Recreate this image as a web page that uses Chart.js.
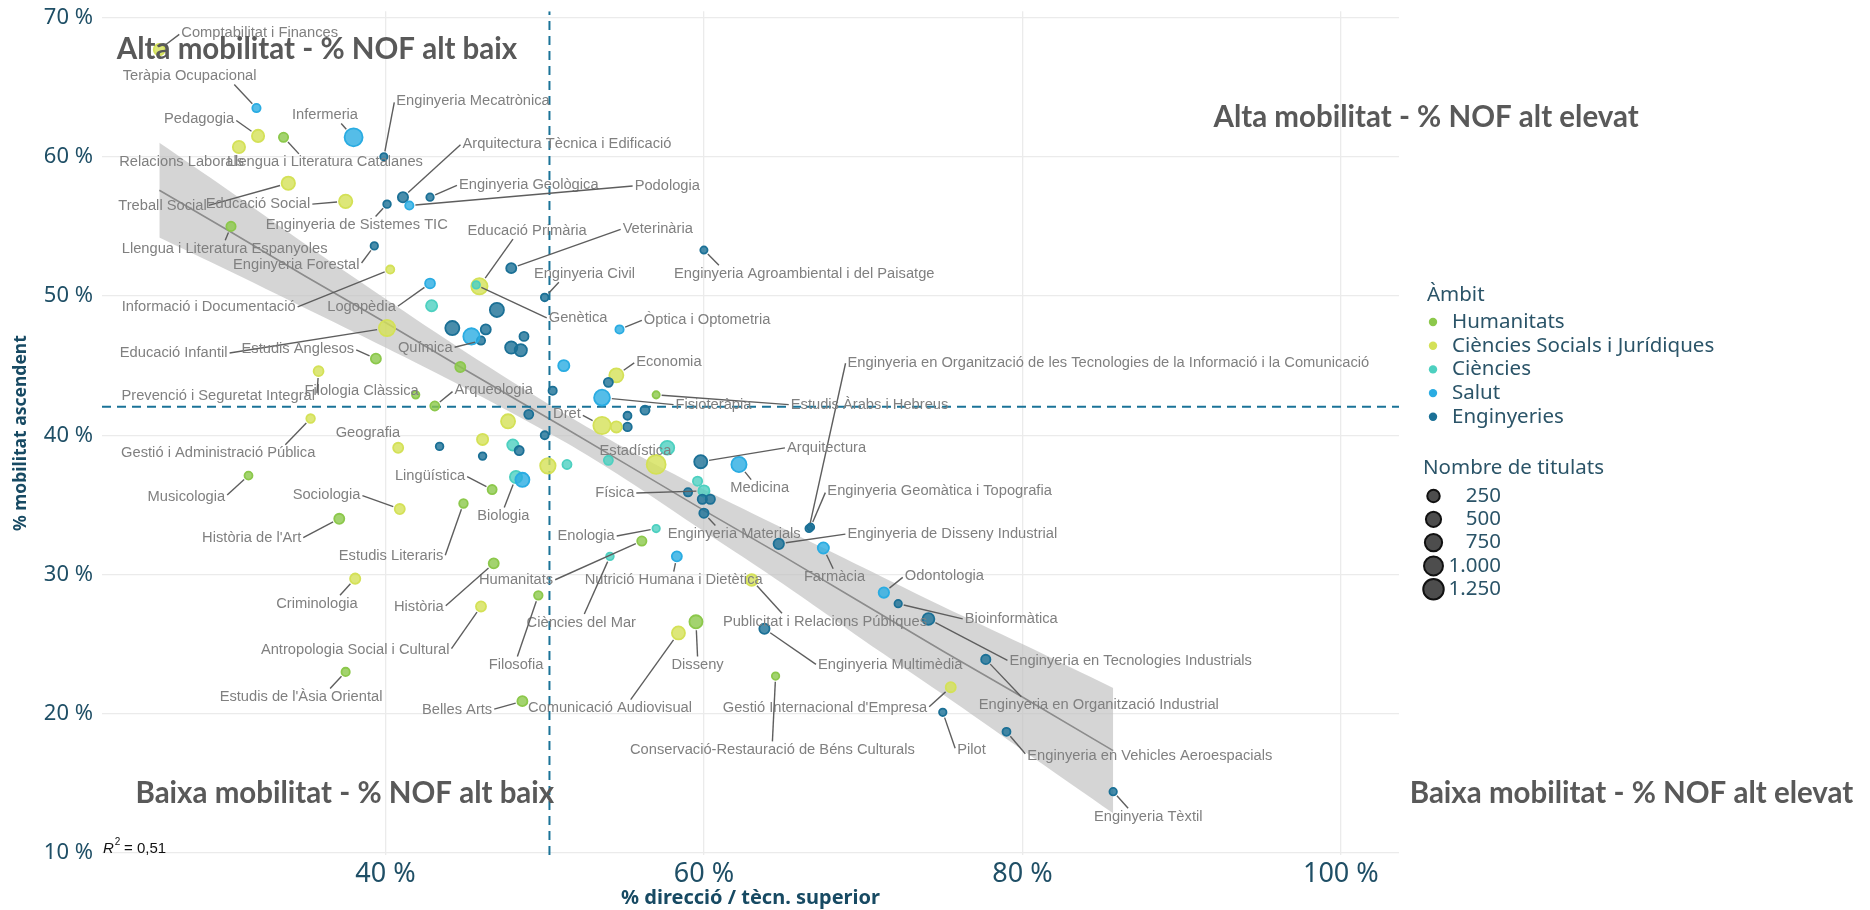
<!DOCTYPE html>
<html>
<head>
<meta charset="utf-8">
<script src="https://cdn.jsdelivr.net/npm/chart.js@4.4.1/dist/chart.umd.min.js"></script>
<style>
  html, body { margin: 0; padding: 0; background: #fff; }
  #wrap { width: 1870px; height: 910px; position: relative; }
</style>
</head>
<body>
<div id="wrap"><canvas id="mobilitatChart"></canvas></div>
<script>
// àmbits and their colours
const ambits = ["Humanitats", "Ciències Socials i Jurídiques", "Ciències", "Salut", "Enginyeries"];
const ambitColors = ["#8cc84b", "#d4e157", "#4dd0c0", "#2aace2", "#1b7096"];

// one entry per titulació (null = point without label)
const titulacions = [
  "Comptabilitat i Finances", "Teràpia Ocupacional", "Pedagogia", "Relacions Laborals", "Llengua i Literatura Catalanes",
  "Infermeria", "Enginyeria Mecatrònica", "Treball Social", "Educació Social", "Arquitectura Tècnica i Edificació",
  "Enginyeria Geològica", "Podologia", "Enginyeria de Sistemes TIC", "Llengua i Literatura Espanyoles", "Enginyeria Forestal",
  "Informació i Documentació", "Veterinària", "Educació Primària", "Genètica", "Enginyeria Civil",
  "Enginyeria Agroambiental i del Paisatge", "Logopèdia", "Òptica i Optometria", "Educació Infantil", "Estudis Anglesos",
  "Química", "Economia", "Enginyeria en Organització de les Tecnologies de la Informació i la Comunicació", "Enginyeria Geomàtica i Topografia", "Estudis Àrabs i Hebreus",
  "Fisioteràpia", "Filologia Clàssica", "Arqueologia", "Prevenció i Seguretat Integral", "Dret",
  "Geografia", "Gestió i Administració Pública", "Estadística", "Arquitectura", "Medicina",
  "Lingüística", "Musicologia", "Física", "Sociologia", "Biologia",
  "Història de l'Art", "Enologia", "Enginyeria Materials", "Enginyeria de Disseny Industrial", "Estudis Literaris",
  "Humanitats", "Nutrició Humana i Dietètica", "Farmàcia", "Odontologia", "Criminologia",
  "Història", "Ciències del Mar", "Publicitat i Relacions Públiques", "Bioinformàtica", "Antropologia Social i Cultural",
  "Disseny", "Comunicació Audiovisual", "Enginyeria Multimèdia", "Enginyeria en Tecnologies Industrials", "Filosofia",
  "Estudis de l'Àsia Oriental", "Belles Arts", "Gestió Internacional d'Empresa", "Enginyeria en Organització Industrial", "Conservació-Restauració de Béns Culturals",
  "Pilot", "Enginyeria en Vehicles Aeroespacials", "Enginyeria Tèxtil",
  null, null, null, null, null, null, null, null, null, null,
  null, null, null, null, null, null, null, null, null, null,
  null, null, null, null, null, null, null, null, null, null,
  null, null, null
];

// index into ambits
const ambitIdx = [
  1, 3, 1, 1, 0, 3, 4, 1, 1, 4,
  4, 3, 4, 0, 4, 1, 4, 1, 2, 4,
  4, 3, 3, 1, 0, 4, 1, 4, 4, 0,
  3, 0, 0, 1, 1, 1, 1, 2, 4, 3,
  0, 0, 2, 1, 2, 0, 2, 4, 4, 0,
  0, 3, 3, 3, 1, 0, 2, 1, 4, 1,
  0, 1, 4, 4, 0, 0, 0, 1, 4, 0,
  4, 4, 4,
  2, 4, 4, 3, 4, 4, 4, 4, 0, 3,
  4, 4, 4, 4, 4, 1, 4, 1, 4, 4,
  1, 4, 2, 4, 1, 2, 1, 2, 2, 4,
  4, 4, 3
];

// % direcció / tècn. superior
const pctDireccio = [
  25.8, 31.9, 32.0, 30.8, 33.6, 38.0, 39.9, 33.9, 37.5, 41.1,
  42.8, 41.5, 40.1, 30.3, 39.3, 40.3, 47.9, 45.9, 45.7, 50.0,
  60.0, 42.8, 54.7, 40.1, 39.4, 46.0, 54.5, 66.6, 66.7, 57.0,
  53.6, 41.9, 43.1, 35.8, 53.6, 40.8, 35.3, 57.7, 59.8, 62.2,
  46.7, 31.4, 60.0, 40.9, 48.2, 37.1, 57.0, 60.0, 64.7, 44.9,
  56.1, 58.3, 67.5, 71.3, 38.1, 46.8, 54.1, 63.0, 72.2, 46.0,
  59.5, 58.4, 63.8, 74.1, 49.6, 37.5, 48.6, 75.5, 77.7, 64.5,
  75.0, 79.0, 85.7,
  42.9, 47.0, 44.2, 45.4, 46.3, 48.7, 47.9, 48.5, 44.7, 51.2,
  50.5, 54.0, 56.3, 55.2, 55.2, 54.5, 49.0, 47.7, 50.0, 43.4,
  46.1, 46.1, 48.0, 48.4, 50.2, 51.4, 57.0, 54.0, 59.6, 59.0,
  59.9, 60.4, 48.6
];

// % mobilitat ascendent
const pctMobilitat = [
  67.7, 63.5, 61.5, 60.7, 61.4, 61.4, 60.0, 58.1, 56.8, 57.1,
  57.1, 56.5, 56.6, 55.0, 53.6, 51.9, 52.0, 50.7, 50.8, 49.9,
  53.3, 50.9, 47.6, 47.7, 45.5, 46.8, 44.3, 33.3, 33.4, 42.9,
  42.7, 42.9, 42.1, 44.6, 40.7, 39.1, 41.2, 39.1, 38.1, 37.9,
  36.1, 37.1, 36.0, 34.7, 37.0, 34.0, 33.3, 34.4, 32.2, 35.1,
  32.4, 31.3, 31.9, 28.7, 29.7, 30.8, 31.3, 29.6, 27.9, 27.7,
  26.6, 25.8, 26.1, 26.8, 28.5, 23.0, 20.9, 21.9, 23.9, 22.7,
  20.1, 18.7, 14.4,
  49.3, 49.0, 47.7, 47.1, 47.6, 47.1, 46.3, 46.1, 44.9, 45.0,
  43.2, 43.8, 41.8, 41.4, 40.6, 40.6, 41.5, 41.0, 40.0, 39.2,
  39.7, 38.5, 39.3, 38.9, 37.8, 37.9, 37.9, 38.2, 36.7, 35.9,
  35.4, 35.4, 36.8
];

// nombre de titulats
const titulats = [
  200, 50, 280, 280, 90, 950, 20, 380, 380, 140,
  25, 50, 30, 90, 25, 45, 130, 700, 25, 30,
  20, 120, 50, 700, 130, 50, 450, 20, 20, 20,
  650, 25, 80, 120, 850, 130, 60, 430, 350, 570,
  80, 40, 200, 130, 280, 130, 25, 90, 150, 60,
  90, 130, 200, 150, 140, 130, 30, 250, 25, 130,
  350, 350, 140, 250, 60, 50, 130, 130, 90, 25,
  25, 40, 25,
  200, 450, 450, 700, 130, 80, 280, 280, 130, 200,
  50, 80, 80, 40, 60, 200, 80, 450, 40, 30,
  200, 30, 200, 80, 600, 80, 1100, 80, 90, 50,
  90, 90, 450
];

// where the repelled labels sit (axis units)
const labelX = [
  32.1, 27.7, 28.3, 27.2, 36.2, 36.2, 45.5, 26.0, 32.0, 51.4,
  49.0, 57.7, 38.2, 29.9, 34.4, 28.9, 57.1, 48.9, 52.1, 52.5,
  66.3, 38.5, 60.2, 26.7, 34.5, 42.5, 57.8, 85.4, 74.8, 70.4,
  60.6, 38.5, 46.8, 29.5, 51.4, 38.9, 29.5, 55.7, 67.7, 63.5,
  42.8, 27.5, 54.4, 36.3, 47.4, 31.6, 52.6, 61.9, 75.6, 40.35,
  48.2, 58.1, 68.2, 75.1, 35.7, 42.1, 52.3, 67.6, 79.3, 38.1,
  59.6, 54.1, 71.7, 86.8, 48.2, 34.7, 44.5, 67.6, 84.8, 64.3,
  76.8, 88.0, 87.9
];
const labelY = [
  68.9, 65.8, 62.7, 59.6, 59.6, 63.0, 64.0, 56.5, 56.6, 60.9,
  58.0, 57.9, 55.1, 53.4, 52.2, 49.2, 54.8, 54.7, 48.4, 51.6,
  51.6, 49.2, 48.3, 45.9, 46.2, 46.3, 45.3, 45.2, 36.0, 42.2,
  42.2, 43.2, 43.25, 42.8, 41.5, 40.2, 38.7, 38.85, 39.1, 36.2,
  37.1, 35.6, 35.85, 35.7, 34.2, 32.6, 32.75, 32.9, 32.9, 31.3,
  29.6, 29.6, 29.8, 29.9, 27.9, 27.7, 26.55, 26.6, 26.8, 24.6,
  23.5, 20.4, 23.5, 23.8, 23.5, 21.2, 20.3, 20.4, 20.6, 17.4,
  17.4, 17.0, 12.6
];

// linear fit and its confidence band
const fitX  = [25.8, 30, 35, 40, 45, 51.3, 55, 60, 65, 70, 75, 80, 85.7];
const fitY  = [57.6, 54.8, 51.4, 48.1, 44.7, 40.5, 38.0, 34.6, 31.3, 27.9, 24.5, 21.2, 17.35];
const fitHi = [61.0, 57.7, 53.7, 49.8, 46.0, 41.5, 39.1, 36.1, 33.3, 30.5, 27.7, 25.0, 21.85];
const fitLo = [54.2, 51.9, 49.1, 46.3, 43.4, 39.5, 36.9, 33.1, 29.3, 25.3, 21.4, 17.4, 12.85];

// reference lines (averages)
const refDireccio = 50.3;
const refMobilitat = 42.05;

// quadrant captions
const quadrantText = ["Alta mobilitat - % NOF alt baix", "Alta mobilitat - % NOF alt elevat",
                      "Baixa mobilitat - % NOF alt baix", "Baixa mobilitat - % NOF alt elevat"];
const quadrantX = [35.7, 105.35, 37.45, 118.25];
const quadrantY = [67.7, 62.8, 14.3, 14.3];

// size legend
const sizeBreaks = [250, 500, 750, 1000, 1250];

const xTicks = [40, 60, 80, 100];
const yTicks = [10, 20, 30, 40, 50, 60, 70];
const xMin = 22.2, xMax = 103.65, yMin = 9.85, yMax = 70.45;

const tickColor = "#1f4f66";
const textGray = "#808080";

function radiusFor(n) {
  return 3.6 + 0.205 * Math.sqrt(n);
}

function withAlpha(hex, a) {
  const v = parseInt(hex.slice(1), 16);
  return `rgba(${(v >> 16) & 255}, ${(v >> 8) & 255}, ${v & 255}, ${a})`;
}

function fmtNum(n) {
  return n >= 1000 ? Math.floor(n / 1000) + "." + String(n % 1000).padStart(3, "0") : String(n);
}

// where a repel segment meets the label box: closest edge point, nudged toward the middle
function lineConnection(px, py, x0, y0, x1, y1) {
  let ox, oy, horiz = false, vert = false;
  if (px >= x0 && px <= x1) ox = px;
  else { ox = px > x1 ? x1 : x0; horiz = true; }
  if (py >= y0 && py <= y1) oy = py;
  else { oy = py > y1 ? y1 : y0; vert = true; }
  const mx = (x0 + x1) / 2, my = (y0 + y1) / 2;
  const d = Math.hypot(px - ox, py - oy);
  if (vert && !horiz) {
    const alt = Math.hypot(px - mx, py - oy);
    ox += (mx - ox) * d / alt;
  } else if (horiz && !vert) {
    const alt = Math.hypot(px - ox, py - my);
    oy += (my - oy) * d / alt;
  } else if (horiz && vert) {
    const alt1 = Math.hypot(px - mx, py - oy);
    const alt2 = Math.hypot(px - ox, py - my);
    if (alt1 < alt2) ox += (mx - ox) * d / alt1;
    else oy += (my - oy) * d / alt2;
  }
  return [ox, oy, horiz || vert];
}

const repelLabels = {
  id: "repelLabels",
  afterDatasetsDraw(chart) {
    const {ctx, scales: {x, y}} = chart;
    ctx.save();
    ctx.font = '14.7px "Liberation Sans", Arial, sans-serif';
    ctx.textAlign = "center";
    ctx.textBaseline = "middle";
    titulacions.forEach((name, i) => {
      if (!name) return;
      const px = x.getPixelForValue(pctDireccio[i]);
      const py = y.getPixelForValue(pctMobilitat[i]);
      const lx = x.getPixelForValue(labelX[i]);
      const ly = y.getPixelForValue(labelY[i]);
      const hw = ctx.measureText(name).width / 2 + 2;
      const hh = 8.5;
      const [ex, ey, outside] = lineConnection(px, py, lx - hw, ly - hh, lx + hw, ly + hh);
      const len = Math.hypot(px - ex, py - ey);
      const r = radiusFor(titulats[i]) + 1;
      if (outside && len - r > 7) {
        const sx = px + (ex - px) * r / len, sy = py + (ey - py) * r / len;
        ctx.strokeStyle = "#5e5e5e";
        ctx.lineWidth = 1.4;
        ctx.beginPath();
        ctx.moveTo(sx, sy);
        ctx.lineTo(ex, ey);
        ctx.stroke();
      }
      ctx.fillStyle = textGray;
      ctx.fillText(name, lx, ly);
    });

    // quadrant captions
    ctx.font = 'bold 29.5px Lato, "Open Sans", sans-serif';
    ctx.fillStyle = "#595959";
    quadrantText.forEach((t, i) => {
      ctx.fillText(t, x.getPixelForValue(quadrantX[i]), y.getPixelForValue(quadrantY[i]));
    });

    // R²
    const left = chart.chartArea.left + 1, base = chart.chartArea.bottom - 2;
    ctx.textAlign = "left";
    ctx.textBaseline = "alphabetic";
    ctx.fillStyle = "#111";
    ctx.font = 'italic 15px "Liberation Sans", Arial, sans-serif';
    ctx.fillText("R", left, base);
    const rw = ctx.measureText("R").width;
    ctx.font = '10px "Liberation Sans", Arial, sans-serif';
    ctx.fillText("2", left + rw + 1, base - 8);
    ctx.font = '15px "Liberation Sans", Arial, sans-serif';
    ctx.fillText(" = 0,51", left + rw + 6, base);
    ctx.restore();
  }
};

// àmbit + size legends
const sideLegend = {
  id: "sideLegend",
  afterDraw(chart) {
    const ctx = chart.ctx;
    const legendColor = "#2b5468";
    ctx.save();
    ctx.textBaseline = "middle";
    ctx.textAlign = "left";
    ctx.font = '20.5px "Noto Sans", sans-serif';
    ctx.fillStyle = legendColor;
    ctx.fillText("Àmbit", 1427, 295);
    ambits.forEach((a, i) => {
      const yy = 322 + i * 23.7;
      ctx.beginPath();
      ctx.arc(1433, yy, 4.2, 0, Math.PI * 2);
      ctx.fillStyle = ambitColors[i];
      ctx.fill();
      ctx.fillStyle = legendColor;
      ctx.fillText(a, 1452, yy);
    });
    ctx.fillText("Nombre de titulats", 1423, 468);
    sizeBreaks.forEach((n, i) => {
      const yy = 496 + i * 23.3;
      ctx.beginPath();
      ctx.arc(1433.5, yy, radiusFor(n) - 0.6, 0, Math.PI * 2);
      ctx.fillStyle = "#4d4d4d";
      ctx.fill();
      ctx.lineWidth = 2;
      ctx.strokeStyle = "#111";
      ctx.stroke();
      ctx.fillStyle = legendColor;
      ctx.textAlign = "right";
      ctx.fillText(fmtNum(n), 1501, yy);
      ctx.textAlign = "left";
    });
    ctx.restore();
  }
};

const pts = pctDireccio.map((v, i) => ({x: v, y: pctMobilitat[i]}));
const idx = c => (c.dataIndex === undefined ? 0 : c.dataIndex);

const ctx = document.getElementById("mobilitatChart");
new Chart(ctx, {
  type: "scatter",
  data: {
    datasets: [
      {
        label: "titulacions",
        data: pts,
        order: 1,
        pointRadius: c => radiusFor(titulats[idx(c)]) - 0.9,
        pointBackgroundColor: c => withAlpha(ambitColors[ambitIdx[idx(c)]], 0.8),
        pointBorderColor: c => ambitColors[ambitIdx[idx(c)]],
        pointBorderWidth: 1.8,
      },
      {
        type: "line",
        label: "ci_hi",
        data: fitX.map((v, i) => ({x: v, y: fitHi[i]})),
        fill: "+1",
        backgroundColor: "rgba(190, 190, 190, 0.65)",
        borderWidth: 0,
        pointRadius: 0,
        tension: 0.3,
        order: 6,
      },
      {
        type: "line",
        label: "ci_lo",
        data: fitX.map((v, i) => ({x: v, y: fitLo[i]})),
        fill: false,
        borderWidth: 0,
        pointRadius: 0,
        tension: 0.3,
        order: 7,
      },
      {
        type: "line",
        label: "fit",
        data: fitX.map((v, i) => ({x: v, y: fitY[i]})),
        borderColor: "#8c8c8c",
        borderWidth: 1.6,
        pointRadius: 0,
        fill: false,
        order: 5,
      },
      {
        type: "line",
        label: "ref_x",
        data: [{x: refDireccio, y: yMin}, {x: refDireccio, y: yMax}],
        borderColor: "#1a7398",
        borderWidth: 2,
        borderDash: [9, 6],
        pointRadius: 0,
        fill: false,
        order: 4,
      },
      {
        type: "line",
        label: "ref_y",
        data: [{x: xMin, y: refMobilitat}, {x: xMax, y: refMobilitat}],
        borderColor: "#1a7398",
        borderWidth: 2,
        borderDash: [9, 6],
        pointRadius: 0,
        fill: false,
        order: 4,
      },
    ],
  },
  options: {
    responsive: true,
    maintainAspectRatio: false,
    animation: false,
    events: [],
    layout: {padding: {left: 0, right: 471, top: 10, bottom: 0}},
    plugins: {
      legend: {display: false},
      tooltip: {enabled: false},
    },
    scales: {
      x: {
        type: "linear",
        min: xMin,
        max: xMax,
        afterBuildTicks: s => { s.ticks = xTicks.map(v => ({value: v})); },
        afterFit: s => { s.height = 55; s.paddingLeft = 0; s.paddingRight = 0; },
        ticks: {
          callback: v => v + " %",
          color: tickColor,
          font: {family: "Noto Sans", size: 27},
          padding: 3,
          maxRotation: 0,
          autoSkip: false,
        },
        grid: {color: "#ebebeb", lineWidth: 1.3, drawTicks: false},
        border: {display: false},
        title: {
          display: true,
          text: "% direcció / tècn. superior",
          color: "#174a63",
          font: {family: "Noto Sans", size: 20, weight: "bold"},
          padding: {top: 0, bottom: 0},
        },
      },
      y: {
        type: "linear",
        min: yMin,
        max: yMax,
        afterBuildTicks: s => { s.ticks = yTicks.map(v => ({value: v})); },
        afterFit: s => { s.width = 102; s.paddingTop = 0; s.paddingBottom = 0; },
        ticks: {
          callback: v => v + " %",
          color: tickColor,
          font: {family: "Noto Sans", size: 22},
          padding: 9,
          autoSkip: false,
        },
        grid: {color: "#ebebeb", lineWidth: 1.3, drawTicks: false},
        border: {display: false},
        title: {
          display: true,
          text: "% mobilitat ascendent",
          color: "#174a63",
          font: {family: "Noto Sans", size: 17.5, weight: "bold"},
          padding: {top: 11, bottom: 0},
        },
      },
    },
  },
  plugins: [repelLabels, sideLegend],
});
</script>
</body>
</html>
